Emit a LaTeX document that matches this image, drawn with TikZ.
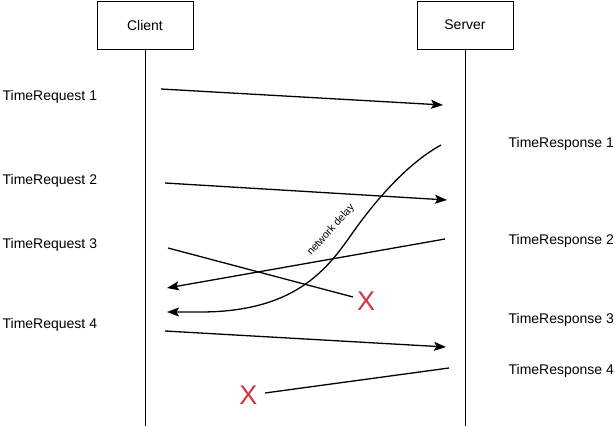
\documentclass[tikz,border=0pt]{standalone}
\usepackage{fontspec}
\setmainfont{Liberation Sans}
\usetikzlibrary{arrows.meta}
\definecolor{lostred}{RGB}{214,50,64}
\begin{document}
\begin{tikzpicture}[x=1pt, y=-1pt, >={Stealth[length=12pt, width=9pt, inset=2.5pt]}, line width=1.3pt,
  every node/.style={font=\fontsize{14}{16}\selectfont, inner sep=0pt},
  party/.style={draw, line width=1pt, minimum width=96pt, minimum height=48pt},
  lost/.style={text=lostred, font=\fontsize{27}{30}\selectfont}]
	\useasboundingbox (0,0) rectangle (615,426);
	
	% 参与方与生命线
	\node[party] (client) at (145,25) {Client};
	\node[party] (server) at (465,25) {Server};
	\coordinate (clientend) at (145,426);
	\coordinate (serverend) at (465,426);
	\draw[line width=1pt] (client) -- (clientend);
	\draw[line width=1pt] (server) -- (serverend);
	
	% 左侧请求标签
	\foreach \i/\y in {1/97, 2/181, 3/245, 4/325}
		\node[anchor=west] (req\i) at (2,\y) {TimeRequest \i};
	
	% 右侧响应标签
	\foreach \i/\y in {1/144, 2/241, 3/320, 4/371}
		\node[anchor=west] (resp\i) at (508,\y) {TimeResponse \i};
	
	% 消息端点
	\coordinate (m1a) at (161,89);  \coordinate (m1b) at (443,105);
	\coordinate (m2a) at (165,183); \coordinate (m2b) at (447,200);
	\coordinate (m3a) at (168,248); \coordinate (m3b) at (353,297);
	\coordinate (m4a) at (445,239); \coordinate (m4b) at (167,288);
	\coordinate (m5a) at (441,145); \coordinate (m5c) at (356,228);
	\coordinate (m5d) at (200,312); \coordinate (m5b) at (167,312);
	\coordinate (m6a) at (165,331); \coordinate (m6b) at (446,347);
	\coordinate (m7a) at (449,368); \coordinate (m7b) at (265,393);
	
	% 消息
	\draw[->] (m1a) -- (m1b);
	\draw[->] (m2a) -- (m2b);
	\draw (m3a) -- (m3b);
	\draw[->] (m4a) -- (m4b);
	\draw[->] (m5a) .. controls (410,162) and (380,195) .. (m5c)
	  .. controls (330,265) and (300,312) .. (m5d) -- (m5b);
	\draw[->] (m6a) -- (m6b);
	\draw (m7a) -- (m7b);
	
	% 延迟说明
	\node[rotate=48, font=\fontsize{10.5}{12}\selectfont] (delay) at (331,230) {network delay};
	
	% 丢失标记
	\node[lost] (lost3) at (366,301) {X};
	\node[lost] (lost4) at (248.5,395.5) {X};
\end{tikzpicture}
\end{document}
